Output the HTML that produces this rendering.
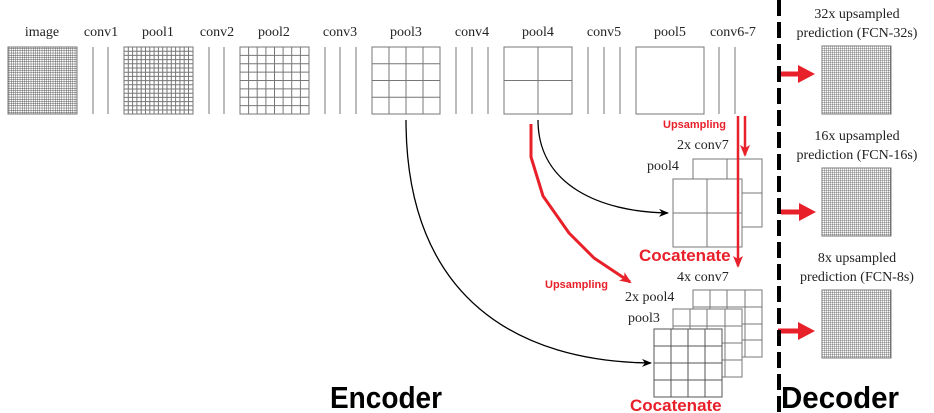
<!DOCTYPE html>
<html><head><style>body{margin:0;background:#fff}svg{display:block}</style></head><body>
<svg width="934" height="413" xmlns="http://www.w3.org/2000/svg" font-family="Liberation Serif, serif">
<defs>
<pattern id="g32" width="2.2" height="2.2" patternUnits="userSpaceOnUse"><path d="M0 0H2.2M0 0V2.2" stroke="#444" stroke-width="0.8" fill="none"/></pattern>
<pattern id="d2" width="2" height="2" patternUnits="userSpaceOnUse"><path d="M0 0H2M0 0V2" stroke="#555" stroke-width="0.8" fill="none"/></pattern>
<marker id="ab" markerWidth="10" markerHeight="8" refX="9" refY="4" orient="auto" markerUnits="userSpaceOnUse"><path d="M0 0L10 4L0 8L3 4Z" fill="#000"/></marker>
<marker id="ar" markerWidth="12" markerHeight="10" refX="10" refY="5" orient="auto" markerUnits="userSpaceOnUse"><path d="M0 0L12 5L0 10L3 5Z" fill="#e8202a"/></marker>
</defs>
<g font-size="14" fill="#222" text-anchor="middle">
<text x="42" y="36">image</text><text x="101" y="36">conv1</text><text x="158" y="36">pool1</text><text x="217" y="36">conv2</text><text x="274" y="36">pool2</text><text x="340" y="36">conv3</text><text x="406" y="36">pool3</text><text x="472" y="36">conv4</text><text x="538" y="36">pool4</text><text x="604" y="36">conv5</text><text x="670" y="36">pool5</text><text x="733" y="36">conv6-7</text>
</g>
<g stroke="#777" fill="none" stroke-width="1">
<rect x="8" y="47" width="69" height="67" fill="url(#g32)"/>
<path d="M93 47V114M108 47V114M209 47V114M224 47V114M325 47V114M340 47V114M356 47V114M440 47V114M456 47V114M472 47V114M488 47V114M588 47V114M604 47V114M620 47V114M719 47V114M735 47V114"/>
<rect x="124" y="47" width="69" height="67"/>
<path d="M128.3 47V114M132.6 47V114M136.9 47V114M141.2 47V114M145.5 47V114M149.8 47V114M154.1 47V114M158.4 47V114M162.7 47V114M167 47V114M171.3 47V114M175.6 47V114M179.9 47V114M184.2 47V114M188.5 47V114M124 51.2H193M124 55.4H193M124 59.6H193M124 63.8H193M124 68H193M124 72.2H193M124 76.4H193M124 80.6H193M124 84.8H193M124 89H193M124 93.2H193M124 97.4H193M124 101.6H193M124 105.8H193M124 110H193"/>
<rect x="240" y="47" width="69" height="67"/>
<path d="M248.6 47V114M257.2 47V114M265.9 47V114M274.5 47V114M283.1 47V114M291.7 47V114M300.4 47V114M240 55.4H309M240 63.8H309M240 72.1H309M240 80.5H309M240 88.9H309M240 97.3H309M240 105.6H309"/>
<rect x="372" y="47" width="68" height="67"/>
<path d="M389 47V114M406 47V114M423 47V114M372 63.8H440M372 80.5H440M372 97.3H440"/>
<rect x="504" y="47" width="68" height="67"/><path d="M538 47V114M504 80.5H572"/>
<rect x="636" y="47" width="68" height="67"/>
<rect x="693" y="159" width="69" height="68" fill="#fff"/><path d="M727 159V227M693 193H762"/>
<rect x="673" y="179" width="69" height="68" fill="#fff"/><path d="M707 179V247M673 213H742"/>
<rect x="693" y="290" width="69" height="67" fill="#fff"/><path d="M710 290V357M727 290V357M745 290V357M693 307H762M693 324H762M693 340H762"/>
<rect x="673" y="309" width="69" height="68" fill="#fff"/><path d="M690 309V377M707 309V377M725 309V377M673 326H742M673 343H742M673 360H742"/>
<rect x="654" y="329" width="68" height="68" fill="#fff" stroke="#555"/><path stroke="#555" d="M671 329V397M688 329V397M705 329V397M654 346H722M654 363H722M654 380H722"/>
<rect x="822" y="46" width="69" height="68" fill="url(#d2)"/>
<rect x="822" y="168" width="69" height="68" fill="url(#d2)"/>
<rect x="822" y="290" width="69" height="68" fill="url(#d2)"/>
</g>
<g font-size="14" fill="#222">
<text x="677" y="149">2x conv7</text><text x="647" y="170">pool4</text>
<text x="677" y="281">4x conv7</text><text x="625" y="301">2x pool4</text><text x="628" y="322">pool3</text>
</g>
<g fill="none" stroke="#000" stroke-width="1.3">
<path d="M538 120C538 185 600 212 668 213" marker-end="url(#ab)"/>
<path d="M406 120C406 300 520 362 651 363" marker-end="url(#ab)"/>
</g>
<g fill="none" stroke="#e8202a" stroke-width="3">
<path d="M531 124L531 157L543 196L569 233L594 258L630 282" marker-end="url(#ar)" stroke-linejoin="round"/>
<path d="M738 116V266" marker-end="url(#ar)" stroke-width="2.5"/>
<path d="M745 116V155" marker-end="url(#ar)" stroke-width="2.5"/>
</g>
<g fill="#e8202a">
<path d="M779 71.5H798V65L815 74L798 83V76.5H779Z"/>
<path d="M781 209.5H799V203L816 212L799 221V214.5H781Z"/>
<path d="M778 328.5H798V322L815 331L798 340V333.5H778Z"/>
</g>
<g font-family="Liberation Sans, sans-serif" font-weight="bold" fill="#e8202a">
<text x="663" y="128" font-size="11">Upsampling</text>
<text x="545" y="288" font-size="11">Upsampling</text>
<text x="639" y="261" font-size="17">Cocatenate</text>
<text x="630" y="411" font-size="17">Cocatenate</text>
</g>
<path d="M779 0V413" stroke="#000" stroke-width="4" stroke-dasharray="16 6"/>
<g font-size="14" fill="#222" text-anchor="middle">
<text x="857" y="18">32x upsampled</text><text x="857" y="37">prediction (FCN-32s)</text>
<text x="857" y="140">16x upsampled</text><text x="857" y="159">prediction (FCN-16s)</text>
<text x="857" y="262">8x upsampled</text><text x="857" y="281">prediction (FCN-8s)</text>
</g>
<g font-family="Liberation Sans, sans-serif" font-weight="bold" font-size="31" fill="#000">
<text x="330" y="408" textLength="112" lengthAdjust="spacingAndGlyphs">Encoder</text><text x="781" y="408" textLength="118" lengthAdjust="spacingAndGlyphs">Decoder</text>
</g>
</svg>
</body></html>
